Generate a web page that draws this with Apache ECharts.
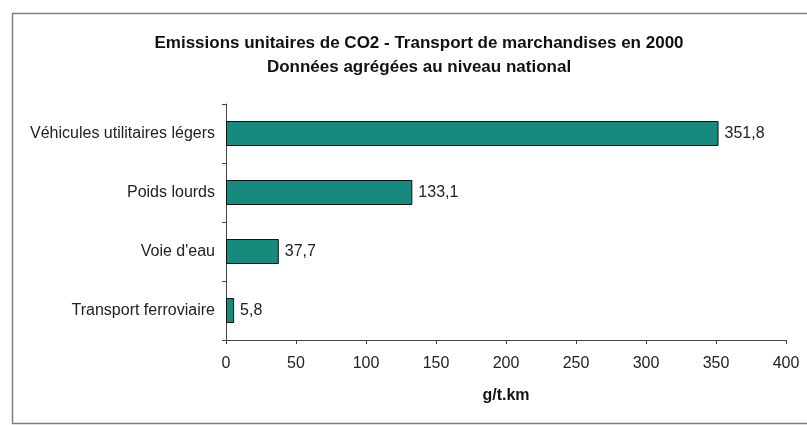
<!DOCTYPE html>
<html><head><meta charset="utf-8">
<script src="https://cdn.jsdelivr.net/npm/echarts@6/dist/echarts.min.js"></script>
<style>html,body{margin:0;padding:0;background:#fff}#c{width:807px;height:425px}</style>
</head><body><div id="c"></div>
<script>
const categories = ["Transport ferroviaire", "Voie d'eau", "Poids lourds", "Véhicules utilitaires légers"];
const values = [5.8, 37.7, 133.1, 351.8];
const valueLabels = ["5,8", "37,7", "133,1", "351,8"];
const titleLines = ["Emissions unitaires de CO2 - Transport de marchandises en 2000", "Données agrégées au niveau national"];
const xAxisName = "g/t.km";

const chart = echarts.init(document.getElementById('c'));
const font = "'Liberation Sans', Arial, sans-serif";
chart.setOption({
  animation: false,
  graphic: [{
    type: 'rect', shape: {x: 12.5, y: 13.5, width: 820, height: 410},
    style: {fill: 'none', stroke: '#808080', lineWidth: 1.5}, silent: true
  }],
  title: {
    text: titleLines.join('\n'), left: 414, top: 26, textAlign: 'center',
    textStyle: {fontFamily: font, fontSize: 17, fontWeight: 'bold', color: '#111', lineHeight: 24}
  },
  grid: {left: 226, right: 21, top: 104, bottom: 85},
  xAxis: {
    type: 'value', min: 0, max: 400, interval: 50,
    name: xAxisName, nameLocation: 'middle', nameGap: 48,
    nameTextStyle: {fontFamily: font, fontSize: 16, fontWeight: 'bold', color: '#111'},
    axisLine: {show: true, lineStyle: {color: '#444', width: 1}},
    axisTick: {show: true, length: 4, lineStyle: {color: '#444'}},
    axisLabel: {fontFamily: font, fontSize: 16, color: '#222', margin: 16},
    splitLine: {show: false}
  },
  yAxis: {
    type: 'category', data: categories,
    axisLine: {show: true, lineStyle: {color: '#444', width: 1}},
    axisTick: {show: true, length: 4, alignWithLabel: false, lineStyle: {color: '#444'}},
    axisLabel: {fontFamily: font, fontSize: 16, color: '#222', margin: 11}
  },
  series: [{
    type: 'bar', data: values, barWidth: 25,
    itemStyle: {color: '#178a7e', borderColor: '#111', borderWidth: 1},
    label: {
      show: true, position: 'right', distance: 6,
      fontFamily: font, fontSize: 16, color: '#222',
      formatter: p => valueLabels[p.dataIndex]
    }
  }]
});
</script></body></html>
